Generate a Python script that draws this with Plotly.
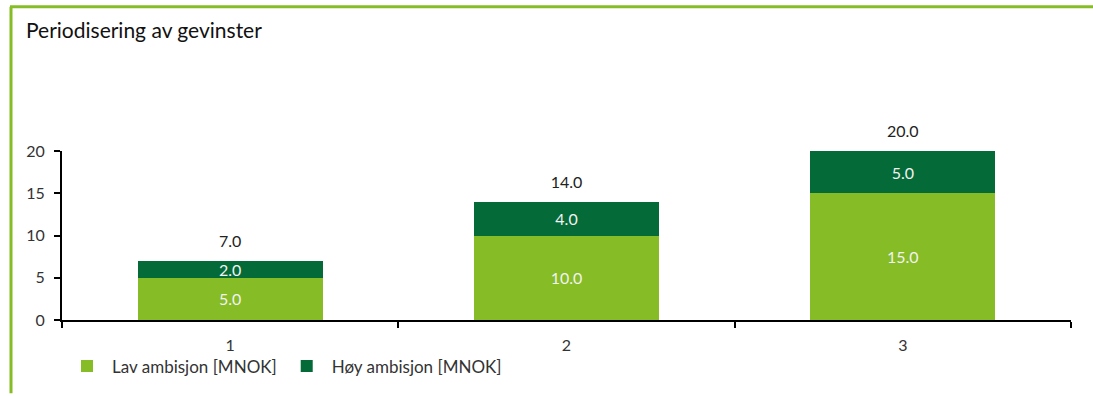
import plotly.graph_objects as go

categories = ["1", "2", "3"]
lav = [5.0, 10.0, 15.0]
hoy = [2.0, 4.0, 5.0]
totals = [a + b for a, b in zip(lav, hoy)]

LIGHT = "#86BC25"
DARK = "#046A38"
FONT = "Lato, 'Open Sans', sans-serif"

fig = go.Figure()
fig.add_trace(go.Bar(
    x=categories, y=lav, name="Lav ambisjon [MNOK]", marker=dict(color=LIGHT, line=dict(width=0)),
    text=[f"{v:.1f}" for v in lav], textposition="inside", insidetextanchor="middle",
    textfont=dict(color="#f2f2f2", size=16, family=FONT), constraintext="none",
))
fig.add_trace(go.Bar(
    x=categories, y=hoy, name="Høy ambisjon [MNOK]", marker=dict(color=DARK, line=dict(width=0)),
    text=[f"{v:.1f}" for v in hoy], textposition="inside", insidetextanchor="middle",
    textfont=dict(color="#f2f2f2", size=16, family=FONT), constraintext="none",
))
fig.add_trace(go.Scatter(
    x=categories, y=totals, mode="markers+text", text=[f"{v:.1f}" for v in totals],
    marker=dict(size=14, opacity=0),
    textposition="top center", textfont=dict(color="#222", size=16, family=FONT),
    showlegend=False, hoverinfo="skip", cliponaxis=False,
))

L, R, T, B = 62, 22, 151, 74
W, H = 1093, 396
pw, ph = W - L - R, H - T - B

def px(x):
    return (x - L) / pw

def py(y):
    return (H - B - y) / ph

fig.update_layout(
    width=W, height=H, margin=dict(l=L, r=R, t=T, b=B),
    barmode="stack", bargap=0.45,
    uniformtext=dict(minsize=16, mode="show"),
    plot_bgcolor="white", paper_bgcolor="white",
    font=dict(family=FONT, size=16, color="#333"),
    title=dict(text="Periodisering av gevinster", x=26 / W, xref="container", xanchor="left",
               y=1 - 31 / H, yref="container", yanchor="middle",
               font=dict(size=21, color="#111", family=FONT)),
    showlegend=True,
    legend=dict(orientation="h", x=px(62), xanchor="left", y=py(369), yanchor="middle",
                font=dict(size=17, color="#333"), traceorder="normal",
                itemwidth=40, bgcolor="rgba(0,0,0,0)"),
    xaxis=dict(type="category", showline=True, linecolor="black", linewidth=2,
               ticks="outside", tickson="boundaries", ticklen=6, tickcolor="black", tickwidth=2,
               ticklabelstandoff=10,
               showgrid=False, tickfont=dict(size=16, color="#333")),
    yaxis=dict(range=[0, 20], tickvals=[0, 5, 10, 15, 20], showline=True, linecolor="black",
               linewidth=2, ticks="outside", ticklen=6, tickcolor="black", tickwidth=2,
               ticklabelstandoff=6,
               showgrid=False, zeroline=False, tickfont=dict(size=16, color="#333")),
    shapes=[
        dict(type="line", xref="paper", yref="paper", x0=px(11), x1=px(11), y0=py(5), y1=py(H),
             line=dict(color=LIGHT, width=3)),
        dict(type="line", xref="paper", yref="paper", x0=px(10), x1=px(W), y0=py(5), y1=py(5),
             line=dict(color=LIGHT, width=3)),
    ],
)

fig.write_html("out.html")
